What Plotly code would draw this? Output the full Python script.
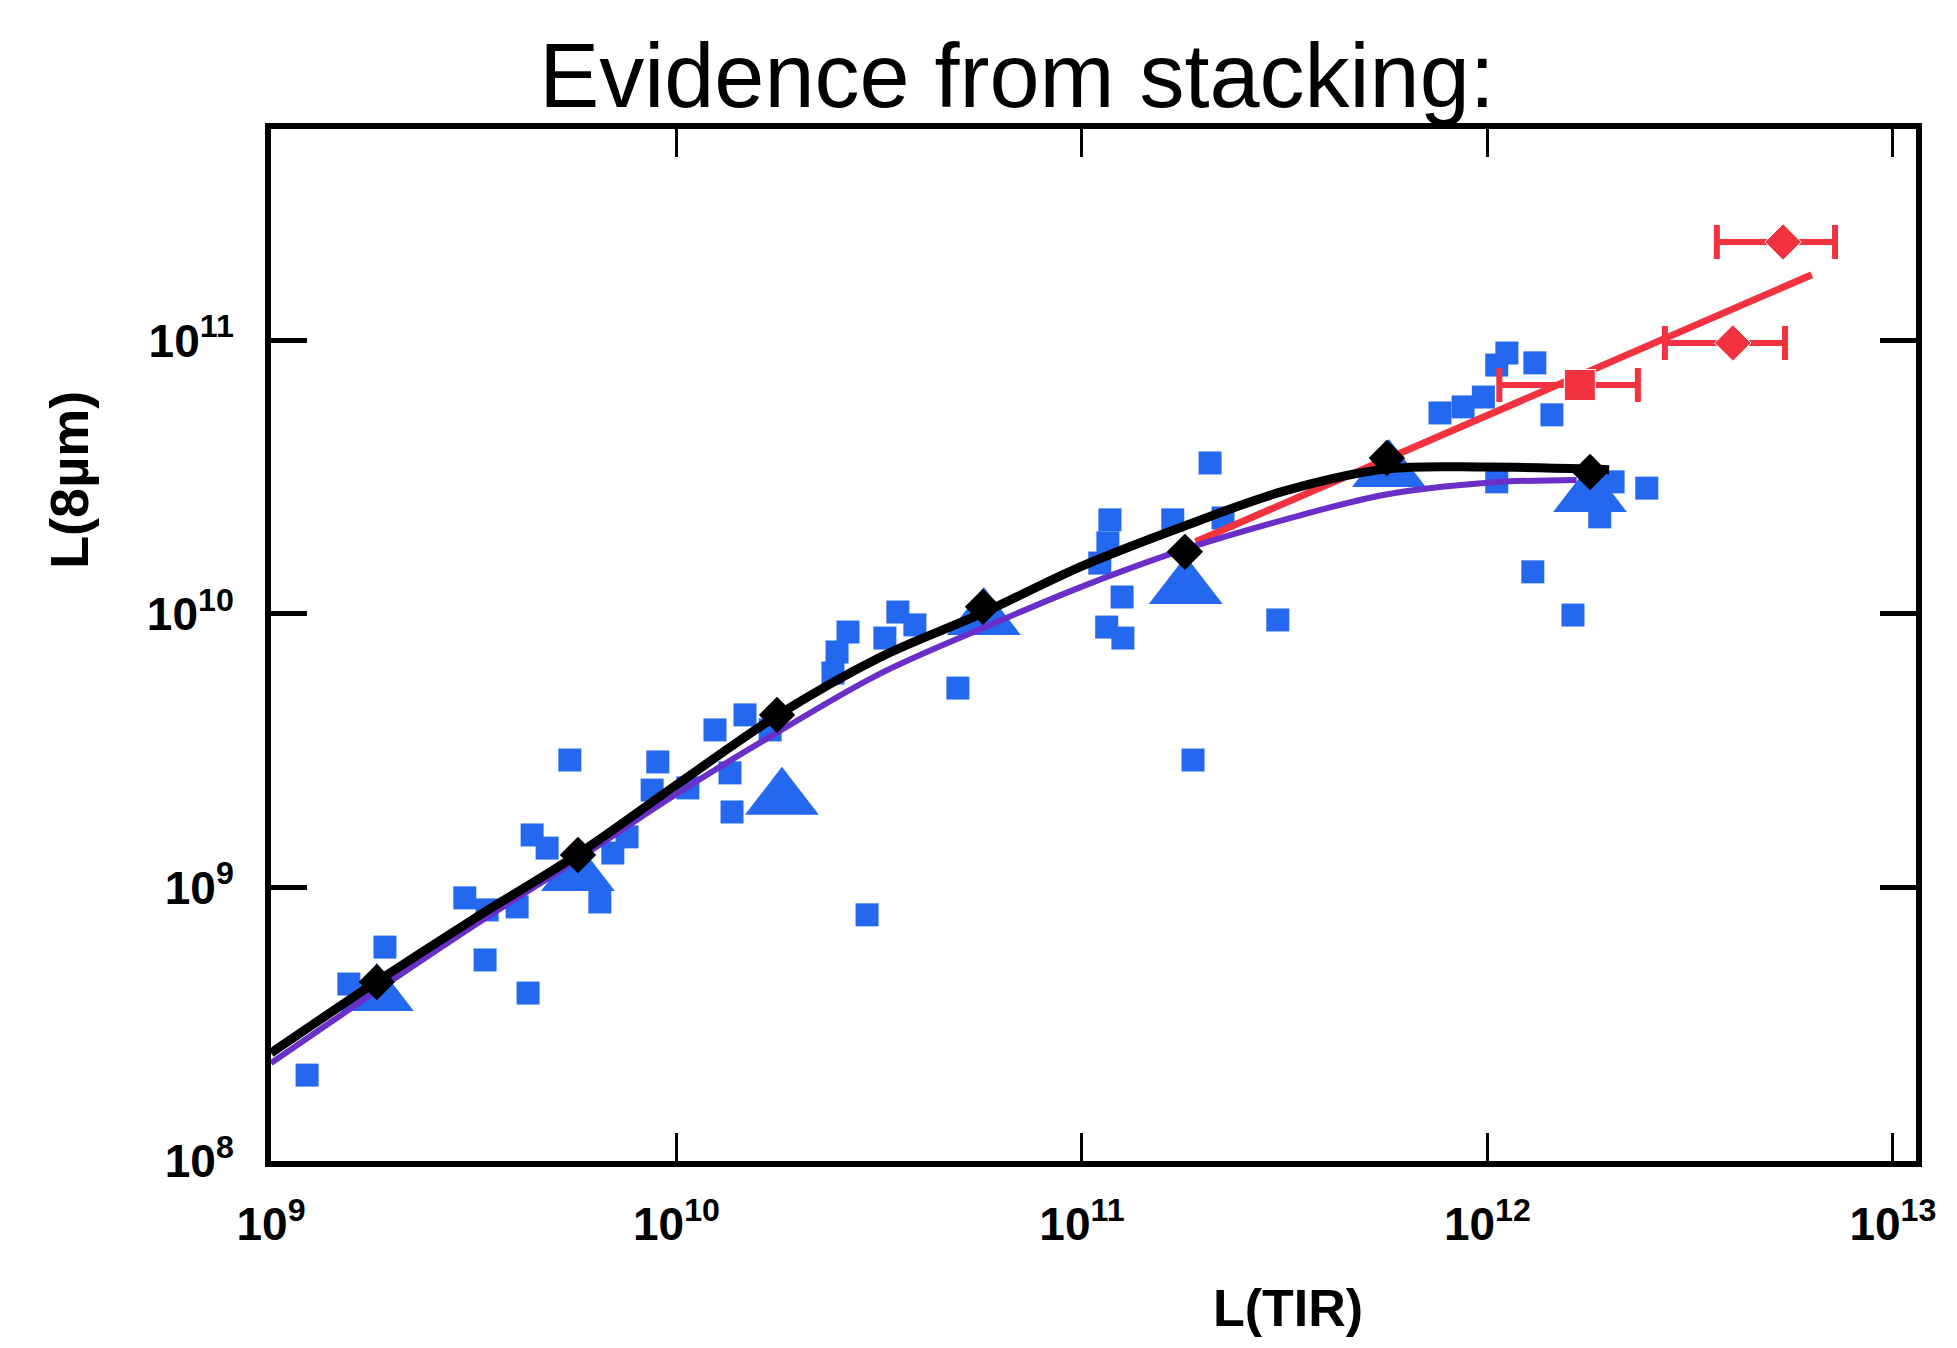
import numpy as np
import plotly.graph_objects as go

# ---- data (log10 values) ----
# blue squares: individual galaxies
sq_log_ltir = [9.089, 9.281, 9.192, 9.478, 9.533, 9.607, 9.528, 9.634, 9.644, 9.681,
               9.737, 9.811, 9.843, 9.878, 9.954, 9.940, 10.028, 10.132, 10.137, 10.095,
               10.169, 10.231, 10.470, 10.386, 10.396, 10.423, 10.514, 10.546, 10.588, 10.694,
               11.069, 11.064, 11.044, 11.099, 11.061, 11.101, 11.224, 11.274, 11.316, 11.348,
               11.483, 11.883, 11.940, 11.990, 12.023, 12.048, 12.117, 12.159, 12.023, 12.310,
               12.393, 12.277, 12.112, 12.211]
sq_log_l8 = [8.314, 8.782, 8.647, 8.962, 8.918, 8.929, 8.735, 8.614, 9.192, 9.144,
             9.466, 8.947, 9.126, 9.185, 9.459, 9.356, 9.364, 9.419, 9.276, 9.576,
             9.631, 9.576, 8.900, 9.784, 9.861, 9.934, 9.912, 10.007, 9.960, 9.729,
             10.344, 10.260, 10.186, 10.062, 9.952, 9.912, 10.344, 9.466, 10.552, 10.351,
             9.978, 10.735, 10.757, 10.793, 10.910, 10.954, 10.918, 10.728, 10.483, 10.483,
             10.460, 10.355, 10.154, 9.996]

# blue triangles: stacked averages
tri_log_ltir = [9.261, 9.757, 10.260, 10.758, 11.256, 11.757, 12.253]
tri_log_l8 = [8.607, 9.046, 9.324, 9.982, 10.095, 10.523, 10.431]

# black diamonds
dia_log_ltir = [9.261, 9.757, 10.248, 10.756, 11.254, 11.752, 12.253]
dia_log_l8 = [8.654, 9.119, 9.631, 10.026, 10.227, 10.570, 10.519]

# black curve
blk_log_ltir = [9.0, 9.25, 9.5, 9.75, 10.0, 10.25, 10.5, 10.75, 11.0, 11.25, 11.5, 11.75, 12.0, 12.25, 12.3]
blk_log_l8 = [8.395, 8.645, 8.885, 9.115, 9.375, 9.63, 9.84, 10.0, 10.175, 10.32, 10.45, 10.53, 10.537, 10.53, 10.527]

# purple curve
pur_log_ltir = [9.0, 9.25, 9.5, 9.75, 10.0, 10.25, 10.5, 10.75, 11.0, 11.25, 11.5, 11.75, 12.0, 12.22]
pur_log_l8 = [8.358, 8.612, 8.86, 9.097, 9.342, 9.568, 9.78, 9.945, 10.1, 10.235, 10.345, 10.437, 10.48, 10.49]

# red straight fit
red_line_log_ltir = [11.28, 12.80]
red_line_log_l8 = [10.264, 11.24]

# red high-luminosity points with horizontal errors (linear units)
red_ltir = [1.69e12, 4.03e12, 5.36e12]
red_l8 = [6.87e10, 9.79e10, 2.29e11]
red_err_plus = [0.66e12, 1.39e12, 1.84e12]
red_err_minus = [0.62e12, 1.29e12, 1.68e12]
red_symbols = ["square", "diamond", "diamond"]
red_sizes = [31, 28, 28]

x_tickvals = [1e9, 1e10, 1e11, 1e12, 1e13]
x_ticktext = ["10<sup>9</sup>", "10<sup>10</sup>", "10<sup>11</sup>", "10<sup>12</sup>", "10<sup>13</sup>"]
y_tickvals = [1e8, 1e9, 1e10, 1e11]
y_ticktext = ["10<sup>8</sup>", "10<sup>9</sup>", "10<sup>10</sup>", "10<sup>11</sup>"]

def lin(a):
    return (10 ** np.array(a, dtype=float)).tolist()

BLUE = "#2468F0"
PURPLE = "#6A2FC9"
RED = "#F2323E"

fig = go.Figure()
fig.add_trace(go.Scatter(x=lin(sq_log_ltir), y=lin(sq_log_l8), mode="markers",
                         marker=dict(symbol="square", size=23, color=BLUE, opacity=1), showlegend=False))
fig.add_trace(go.Scatter(x=lin(tri_log_ltir), y=lin(tri_log_l8), mode="markers",
                         marker=dict(symbol="triangle-up", size=64, color=BLUE, opacity=1), showlegend=False))
fig.add_trace(go.Scatter(x=lin(red_line_log_ltir), y=lin(red_line_log_l8), mode="lines",
                         line=dict(color=RED, width=7), showlegend=False))
fig.add_trace(go.Scatter(x=lin(pur_log_ltir), y=lin(pur_log_l8), mode="lines",
                         line=dict(color=PURPLE, width=6, shape="spline"), showlegend=False))
fig.add_trace(go.Scatter(x=lin(blk_log_ltir), y=lin(blk_log_l8), mode="lines",
                         line=dict(color="black", width=9, shape="spline"), showlegend=False))
fig.add_trace(go.Scatter(x=lin(dia_log_ltir), y=lin(dia_log_l8), mode="markers",
                         marker=dict(symbol="diamond", size=28, color="black", opacity=1), showlegend=False))
fig.add_trace(go.Scatter(x=red_ltir, y=red_l8, mode="markers",
                         marker=dict(symbol=red_symbols, size=red_sizes, color=RED, opacity=1),
                         error_x=dict(type="data", symmetric=False, array=red_err_plus,
                                      arrayminus=red_err_minus, color=RED, thickness=6, width=17),
                         showlegend=False))

XFONT = "Liberation Sans Narrow, Arial Narrow, Liberation Sans, Arial, sans-serif"
YFONT = "Liberation Sans, Arial, Helvetica, sans-serif"

# page body adds an 8px offset; the figure is sized to compensate
fig.update_layout(
    width=1941, height=1332,
    margin=dict(l=263, r=33, t=121, b=179),
    paper_bgcolor="white", plot_bgcolor="white",
    title=dict(text="Evidence from stacking:", x=(1017 - 8) / 1941, xref="container", xanchor="center",
               y=1 - (75 - 8) / 1332, yref="container", yanchor="middle",
               font=dict(family=YFONT, size=90, color="black")),
    xaxis=dict(type="log", range=[9, 13.057], showgrid=False, zeroline=False,
               showline=True, linecolor="black", linewidth=6, mirror="ticks",
               ticks="inside", ticklen=28, tickwidth=3, tickcolor="black",
               tickvals=x_tickvals, ticktext=x_ticktext, ticklabelstandoff=18,
               tickfont=dict(family=XFONT, size=46, color="black", weight="bold")),
    yaxis=dict(type="log", range=[8, 11.773], showgrid=False, zeroline=False,
               showline=True, linecolor="black", linewidth=6, mirror="ticks",
               ticks="inside", ticklen=36, tickwidth=5, tickcolor="black",
               tickvals=y_tickvals, ticktext=y_ticktext, ticklabelstandoff=22,
               tickfont=dict(family=YFONT, size=46, color="black", weight="bold")),
    annotations=[
        dict(text="<b>L(TIR)</b>", xref="paper", yref="paper", x=0.618, y=-0.142,
             xanchor="center", yanchor="middle", showarrow=False,
             font=dict(family=XFONT, size=52, color="black")),
        dict(text="<b>L(8µm)</b>", xref="paper", yref="paper", x=-0.1228, y=0.66,
             xanchor="center", yanchor="middle", showarrow=False, textangle=-90,
             font=dict(family=YFONT, size=54, color="black")),
    ],
)

fig.write_html("out.html")
